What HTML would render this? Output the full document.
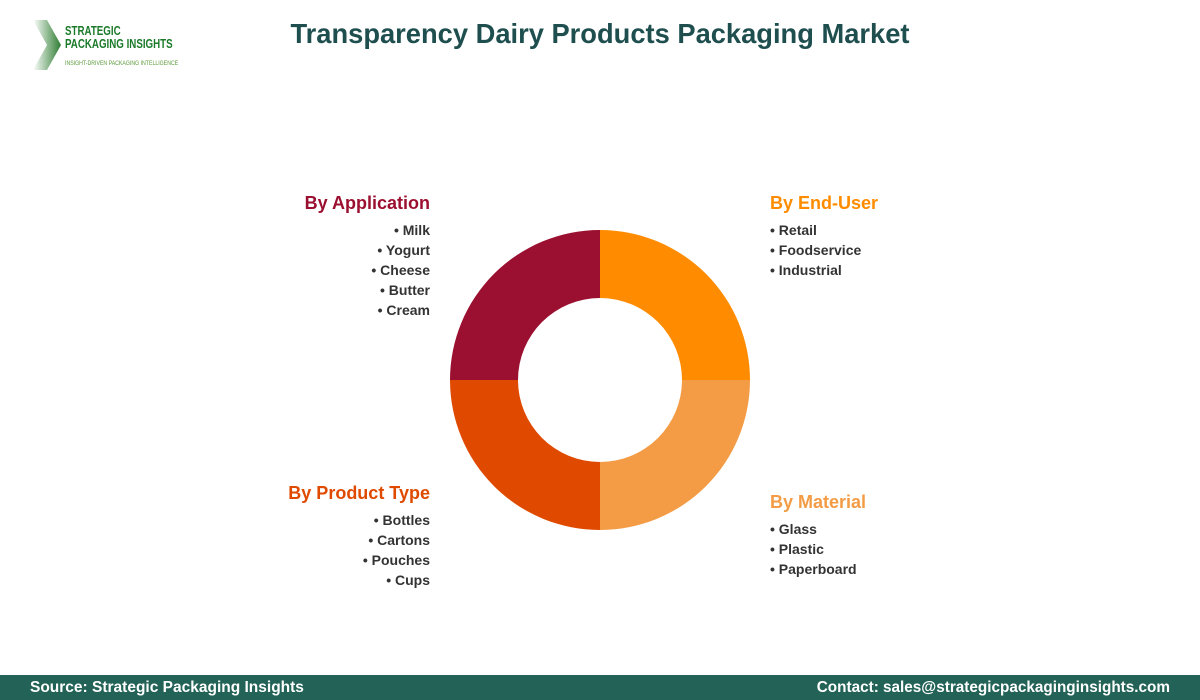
<!DOCTYPE html>
<html><head><meta charset="utf-8"><style>
body{margin:0;width:1200px;height:700px;background:#fff;font-family:"Liberation Sans",sans-serif;position:relative;overflow:hidden}
.t{position:absolute;white-space:nowrap}
.h{font-weight:bold;font-size:18px}
.i{font-size:14px;font-weight:bold;color:#333;line-height:20px}
.r{text-align:right}
</style></head><body>
<svg class="t" style="left:33px;top:20px" width="30" height="50"><defs><linearGradient id="g" x1="0" x2="1"><stop offset="0" stop-color="#fff"/><stop offset="1" stop-color="#2e7d32"/></linearGradient></defs><polygon points="0,0 14,0 28,25 14,50 0,50 14,25" fill="url(#g)"/></svg>
<div class="t" style="left:65px;top:25px;font-size:12.5px;font-weight:bold;color:#1b7a2a;line-height:13px;transform:scaleX(0.78);transform-origin:0 0">STRATEGIC<br>PACKAGING INSIGHTS</div>
<div class="t" style="left:65px;top:60px;font-size:6.5px;color:#5a9a3a;transform:scaleX(0.8);transform-origin:0 0">INSIGHT-DRIVEN PACKAGING INTELLIGENCE</div>
<div class="t" style="left:0;width:1200px;top:18px;text-align:center;font-size:27.3px;font-weight:bold;color:#1f4e4f">Transparency Dairy Products Packaging Market</div>
<svg class="t" style="left:0;top:0" width="1200" height="700">
<path d="M600,230 A150,150 0 0 1 750,380 L682,380 A82,82 0 0 0 600,298Z" fill="#FF8C00"/>
<path d="M750,380 A150,150 0 0 1 600,530 L600,462 A82,82 0 0 0 682,380Z" fill="#F39C45"/>
<path d="M600,530 A150,150 0 0 1 450,380 L518,380 A82,82 0 0 0 600,462Z" fill="#E04A00"/>
<path d="M450,380 A150,150 0 0 1 600,230 L600,298 A82,82 0 0 0 518,380Z" fill="#9B1030"/>
</svg>
<div class="t h r" style="right:770px;top:193px;color:#9B1030">By Application</div>
<div class="t i r" style="right:770px;top:220px">• Milk<br>• Yogurt<br>• Cheese<br>• Butter<br>• Cream</div>
<div class="t h" style="left:770px;top:193px;color:#FF8C00">By End-User</div>
<div class="t i" style="left:770px;top:220px">• Retail<br>• Foodservice<br>• Industrial</div>
<div class="t h r" style="right:770px;top:483px;color:#E04A00">By Product Type</div>
<div class="t i r" style="right:770px;top:510px">• Bottles<br>• Cartons<br>• Pouches<br>• Cups</div>
<div class="t h" style="left:770px;top:492px;color:#F39C45">By Material</div>
<div class="t i" style="left:770px;top:519px">• Glass<br>• Plastic<br>• Paperboard</div>
<div class="t" style="left:0;top:675px;width:1200px;height:25px;background:#236357"></div>
<div class="t" style="left:30px;top:679px;color:#fff;font-weight:bold;font-size:15.5px">Source: Strategic Packaging Insights</div>
<div class="t" style="right:30px;top:679px;color:#fff;font-weight:bold;font-size:15.3px">Contact: sales@strategicpackaginginsights.com</div>
</body></html>
